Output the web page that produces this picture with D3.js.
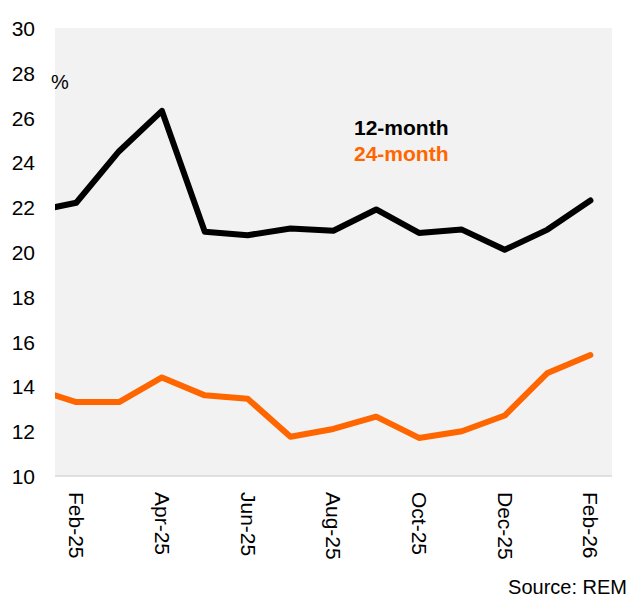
<!DOCTYPE html>
<html>
<head>
<meta charset="utf-8">
<script src="https://cdn.jsdelivr.net/npm/d3@7"></script>
<style>
    body { margin: 0; background: #fff; }
    text { font-family: "Liberation Sans", Arial, sans-serif; }
</style>
</head>
<body>
<div id="main"></div>
<script>
// months (Jan-25 sits just left of the plot area and gets clipped)
const months = ["Jan-25","Feb-25","Mar-25","Apr-25","May-25","Jun-25","Jul-25",
    "Aug-25","Sep-25","Oct-25","Nov-25","Dec-25","Jan-26","Feb-26"];
const tickMonths = ["Feb-25","Apr-25","Jun-25","Aug-25","Oct-25","Dec-25","Feb-26"];
const yTicks = [10,12,14,16,18,20,22,24,26,28,30];

const rate12 = [21.8,22.2,24.5,26.3,20.9,20.75,21.05,20.95,21.9,20.85,21.0,20.1,21.0,22.3];
const rate24 = [13.9,13.3,13.3,14.4,13.6,13.45,11.75,12.1,12.65,11.7,12.0,12.7,14.6,15.4];

const seriesNames = ["12-month","24-month"];
const seriesColors = ["#000000","#ff6600"];

function drawChart(){
    const w = 631;
    const h = 599;
    const plotLeft = 55, plotRight = 612, plotTop = 28, plotBottom = 476;

    const svg = d3.select("#main").append("svg").attr("width",w).attr("height",h);

    const xScale = d3.scalePoint()
        .domain(months)
        .range([33.4, 590.4]);

    const yScale = d3.scaleLinear()
        .domain([10,30])
        .range([plotBottom, plotTop]);

    // grey plot background
    svg.append("rect")
        .attr("x",plotLeft)
        .attr("y",plotTop)
        .attr("width",plotRight-plotLeft)
        .attr("height",plotBottom-plotTop)
        .style("fill","#f2f2f2");

    svg.append("clipPath").attr("id","plotClip")
        .append("rect")
        .attr("x",plotLeft)
        .attr("y",plotTop-5)
        .attr("width",plotRight-plotLeft)
        .attr("height",plotBottom-plotTop+5);

    // y axis labels only
    const yAxis = d3.axisLeft(yScale)
        .tickValues(yTicks)
        .tickSize(0)
        .tickPadding(0);
    const yg = svg.append("g")
        .attr("transform","translate(35,0)")
        .call(yAxis);
    yg.select(".domain").remove();
    yg.selectAll("text")
        .style("font-size","21px")
        .style("fill","#000")
        .attr("dy","0.36em");

    // bottom line
    svg.append("line")
        .attr("x1",plotLeft).attr("x2",plotRight)
        .attr("y1",plotBottom).attr("y2",plotBottom)
        .style("stroke","#d9d9d9")
        .style("stroke-width",1.5);

    // x axis, rotated labels
    const xAxis = d3.axisBottom(xScale)
        .tickValues(tickMonths)
        .tickSize(0);
    const xg = svg.append("g")
        .attr("transform","translate(0,"+plotBottom+")")
        .call(xAxis);
    xg.select(".domain").remove();
    xg.selectAll("text")
        .style("font-size","21px")
        .style("fill","#000")
        .style("text-anchor","start")
        .attr("transform","rotate(90)")
        .attr("x",16)
        .attr("y",0)
        .attr("dy","0.36em");

    // lines
    const line = d3.line()
        .x((d,i)=>xScale(months[i]))
        .y((d)=>yScale(d));

    const lineG = svg.append("g").attr("clip-path","url(#plotClip)");
    [rate12, rate24].forEach((series,i)=>{
        lineG.append("path")
            .datum(series)
            .attr("d",line)
            .style("fill","none")
            .style("stroke",seriesColors[i])
            .style("stroke-width",6)
            .style("stroke-linejoin","round")
            .style("stroke-linecap","round");
    });

    // legend
    svg.selectAll(".legend")
        .data(seriesNames)
        .enter()
        .append("text")
        .attr("class","legend")
        .attr("x",354)
        .attr("y",(d,i)=>135 + i*26)
        .style("font-size","21px")
        .style("font-weight","bold")
        .style("fill",(d,i)=>seriesColors[i])
        .text((d)=>d);

    svg.append("text")
        .attr("x",51)
        .attr("y",89)
        .style("font-size","20px")
        .text("%");

    svg.append("text")
        .attr("x",627)
        .attr("y",594)
        .style("text-anchor","end")
        .style("font-size","20px")
        .text("Source: REM");
}

drawChart();
</script>
</body>
</html>
